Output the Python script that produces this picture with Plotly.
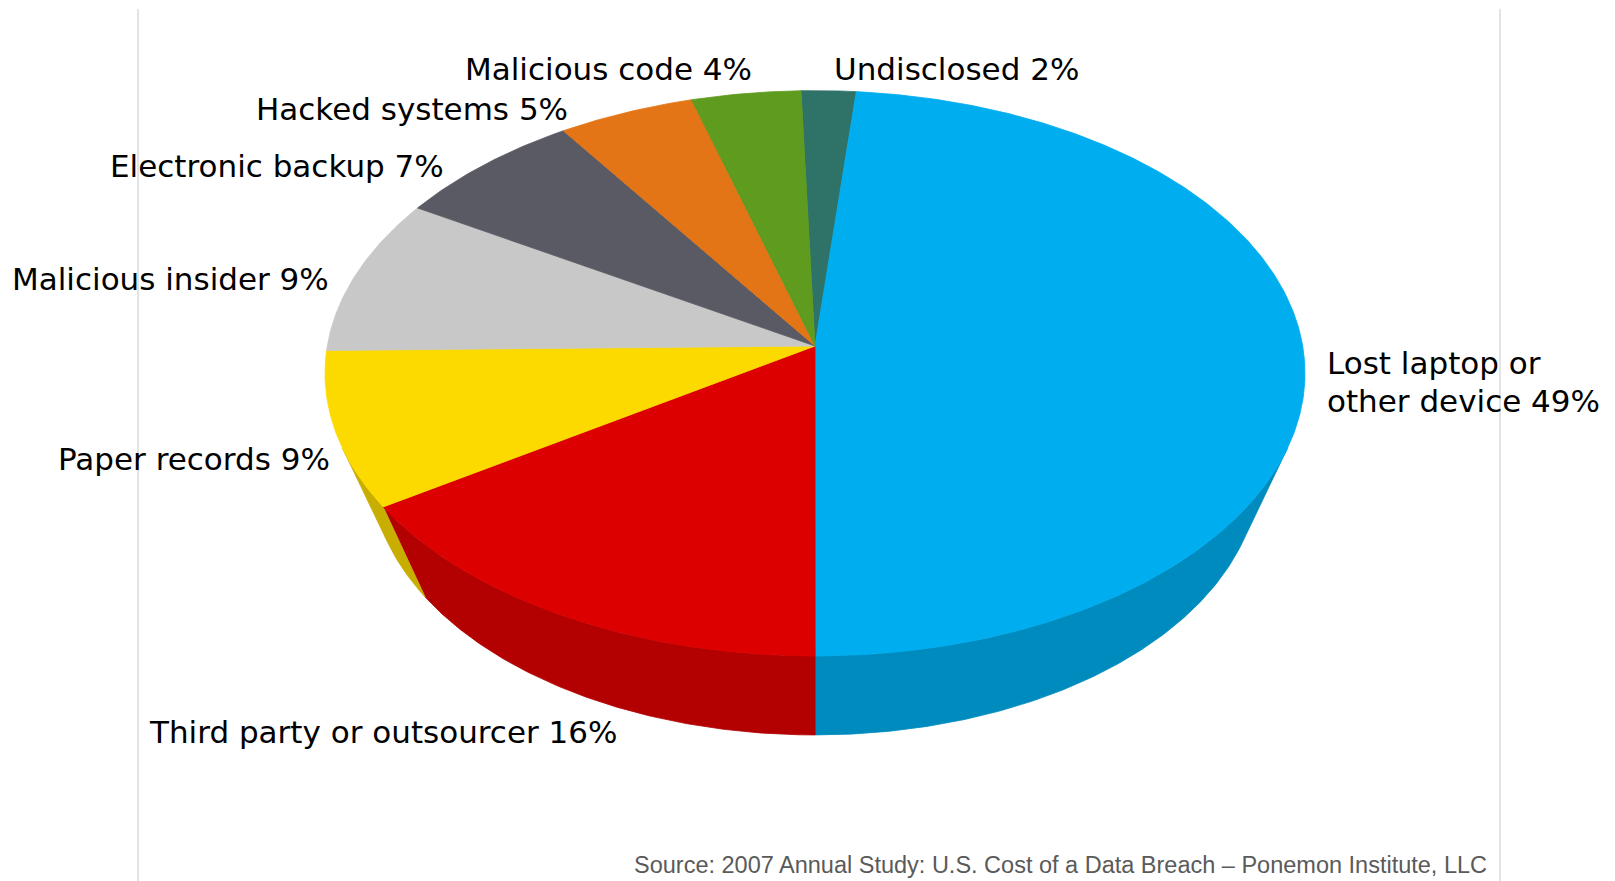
import numpy as np
import plotly.graph_objects as go

# ---------------- data ----------------
labels = ["Undisclosed", "Lost laptop or other device", "Third party or outsourcer",
          "Paper records", "Malicious insider", "Electronic backup",
          "Hacked systems", "Malicious code"]
values = [2, 49, 16, 9, 9, 7, 5, 4]
label_lines = [["Undisclosed 2%"], ["Lost laptop or", "other device 49%"],
               ["Third party or outsourcer 16%"], ["Paper records 9%"],
               ["Malicious insider 9%"], ["Electronic backup 7%"],
               ["Hacked systems 5%"], ["Malicious code 4%"]]
source_text = "Source: 2007 Annual Study: U.S. Cost of a Data Breach \u2013 Ponemon Institute, LLC"

# ---------------- style ----------------
top_colors = ["#2E7268", "#00ADEF", "#DD0000", "#FCDA00", "#C8C8C8", "#5A5A64", "#E37517", "#5F9B1F"]
side_colors = ["#235850", "#008BBF", "#B30000", "#C8AE00", "#A0A0A0", "#45454D", "#B55D12", "#4A7A18"]
# label anchor (x, y, xanchor) per line, in pixels
label_pos = [[(832, 69, "left")], [(1325, 363, "left"), (1325, 401, "left")],
             [(619, 732, "right")], [(332, 459, "right")], [(331, 279, "right")],
             [(446, 166, "right")], [(570, 109, "right")], [(754, 69, "right")]]

W, H = 1615, 881
CX, CY = 815.0, 346.0
ELEV = np.radians(58.5)
C_E, S_E = np.cos(ELEV), np.sin(ELEV)
DIST = 5.411
FX, FY = 2639.0, 1777.0
THICK = 0.647
START_DEG = -1.8


def proj(phi_deg, z):
    p = np.radians(np.asarray(phi_deg, dtype=float))
    X, Y = np.sin(p), np.cos(p)
    depth = DIST + Y * C_E - z * S_E
    v = Y * S_E + z * C_E
    return CX + FX * X / depth, CY - FY * v / depth


total = float(sum(values))
bounds = [START_DEG]
for v in values:
    bounds.append(bounds[-1] + v / total * 360.0)

phi_a = np.degrees(np.arccos(-1.0 / (DIST * C_E)))
phi_b = 360.0 - phi_a

fig = go.Figure()

# side walls (front facing part only)
for i in range(len(values)):
    a1, a2 = max(bounds[i], phi_a), min(bounds[i + 1], phi_b)
    if a2 <= a1:
        continue
    n = max(int((a2 - a1) / 0.5), 2)
    ph = np.linspace(a1, a2, n)
    xt, yt = proj(ph, 0.0)
    xb, yb = proj(ph[::-1], -THICK)
    xs = np.concatenate([xt, xb, xt[:1]])
    ys = np.concatenate([yt, yb, yt[:1]])
    fig.add_trace(go.Scatter(x=xs, y=ys, mode="lines", fill="toself",
                             fillcolor=side_colors[i],
                             line=dict(color=side_colors[i], width=0.8),
                             hoverinfo="skip", showlegend=False))

# top faces
for i in range(len(values)):
    a1, a2 = bounds[i], bounds[i + 1]
    n = max(int((a2 - a1) / 0.5), 2)
    ph = np.linspace(a1, a2, n)
    xt, yt = proj(ph, 0.0)
    xs = np.concatenate([[CX], xt, [CX]])
    ys = np.concatenate([[CY], yt, [CY]])
    fig.add_trace(go.Scatter(x=xs, y=ys, mode="lines", fill="toself",
                             fillcolor=top_colors[i],
                             line=dict(color=top_colors[i], width=0.8),
                             name=labels[i], hoverinfo="name", showlegend=False))

annotations = []
for lines, poss in zip(label_lines, label_pos):
    for txt, (x, y, xa) in zip(lines, poss):
        annotations.append(dict(x=x, y=y, xref="x", yref="y", text=txt, showarrow=False,
                                xanchor=xa, yanchor="middle",
                                font=dict(family="DejaVu Sans", size=31, color="#000000")))
annotations.append(dict(x=1489, y=865, xref="x", yref="y", text=source_text, showarrow=False,
                        xanchor="right", yanchor="middle",
                        font=dict(family="Liberation Sans", size=23.5, color="#5a5a5a")))

shapes = [dict(type="line", x0=x, x1=x, y0=9, y1=H, xref="x", yref="y",
               line=dict(color="#C8C8C8", width=1)) for x in (138, 1500)]

fig.update_layout(
    width=W, height=H, margin=dict(l=0, r=0, t=0, b=0),
    paper_bgcolor="white", plot_bgcolor="white",
    xaxis=dict(range=[0, W], visible=False, fixedrange=True),
    yaxis=dict(range=[H, 0], visible=False, fixedrange=True),
    annotations=annotations, shapes=shapes,
)

fig.write_html("out.html", config={"displayModeBar": False},
               post_script="document.body.style.margin='0';document.body.style.overflow='hidden';")
